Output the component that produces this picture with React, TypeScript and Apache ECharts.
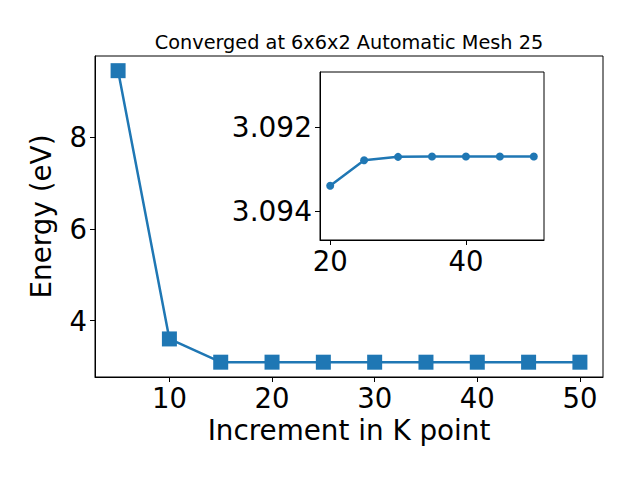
import React, { useEffect, useRef } from "react";
import * as echarts from "echarts";

const kPoints = [5, 10, 15, 20, 25, 30, 35, 40, 45, 50];
const energies = [9.45, 3.6, 3.093, 3.0934, 3.0928, 3.0927, 3.0927, 3.0927, 3.0927, 3.0927];
const insetK = [20, 25, 30, 35, 40, 45, 50];
const insetEnergies = [3.0934, 3.09279, 3.09271, 3.0927, 3.0927, 3.0927, 3.0927];
const mainXTicks = [10, 20, 30, 40, 50];
const mainYTicks = [4, 6, 8];
const insetXTicks = [20, 40];
const insetYTicks = [3.092, 3.094];
const titleText = "Converged at 6x6x2 Automatic Mesh 25";

const BLUE = "#1f77b4";
const FONT = "DejaVu Sans";
const BIG = 27.5;

export default function App() {
  const ref = useRef<HTMLDivElement>(null);
  useEffect(() => {
    if (!ref.current) return;
    const chart = echarts.init(ref.current, null, { renderer: "svg" });
    const axisCommon = {
      axisLine: { show: true, onZero: false, lineStyle: { color: "#000", width: 1 } },
      axisTick: { show: true, length: 5, lineStyle: { color: "#000", width: 1 } },
      splitLine: { show: false },
    };
    chart.setOption({
      animation: false,
      backgroundColor: "#fff",
      graphic: [
        {
          type: "text",
          x: 341,
          y: 34,
          style: {
            text: titleText,
            fontFamily: FONT,
            fontSize: 19.3,
            fill: "#000",
            align: "center",
            verticalAlign: "middle",
          },
        },
      ],
      grid: [
        { left: 87, right: 45, top: 48, bottom: 111, show: true, borderColor: "#000", borderWidth: 1 },
        { left: 312, top: 64, width: 224, height: 168, show: true, borderColor: "#000", borderWidth: 1, backgroundColor: "#fff", z: 10 },
      ],
      xAxis: [
        {
          type: "value",
          gridIndex: 0,
          min: 2.75,
          max: 52.25,
          ...axisCommon,
          axisTick: { ...axisCommon.axisTick, customValues: mainXTicks },
          axisLabel: { customValues: mainXTicks, fontFamily: FONT, fontSize: BIG, color: "#000", margin: 7 },
          name: "Increment in K point",
          nameLocation: "middle",
          nameGap: 38,
          nameTextStyle: { fontFamily: FONT, fontSize: 27.8, color: "#000", verticalAlign: "top" },
        },
        {
          type: "value",
          gridIndex: 1,
          min: 18.5,
          max: 51.5,
          z: 10,
          ...axisCommon,
          axisTick: { ...axisCommon.axisTick, customValues: insetXTicks },
          axisLabel: { customValues: insetXTicks, fontFamily: FONT, fontSize: BIG, color: "#000", margin: 7 },
        },
      ],
      yAxis: [
        {
          type: "value",
          gridIndex: 0,
          min: 2.77,
          max: 9.77,
          ...axisCommon,
          axisTick: { ...axisCommon.axisTick, customValues: mainYTicks },
          axisLabel: { customValues: mainYTicks, fontFamily: FONT, fontSize: BIG, color: "#000", margin: 8 },
          name: "Energy (eV)",
          nameLocation: "middle",
          nameGap: 40,
          nameTextStyle: { fontFamily: FONT, fontSize: 27.8, color: "#000" },
        },
        {
          type: "value",
          gridIndex: 1,
          inverse: true,
          min: 3.09069,
          max: 3.09469,
          z: 10,
          ...axisCommon,
          axisTick: { ...axisCommon.axisTick, customValues: insetYTicks },
          axisLabel: {
            customValues: insetYTicks,
            fontFamily: FONT,
            fontSize: 28,
            color: "#000",
            margin: 8,
            formatter: (v: number) => v.toFixed(3),
          },
        },
      ],
      series: [
        {
          type: "line",
          xAxisIndex: 0,
          yAxisIndex: 0,
          data: kPoints.map((k, i) => [k, energies[i]]),
          symbol: "rect",
          symbolSize: 15,
          lineStyle: { color: BLUE, width: 2.5 },
          itemStyle: { color: BLUE },
        },
        {
          type: "line",
          xAxisIndex: 1,
          yAxisIndex: 1,
          z: 20,
          data: insetK.map((k, i) => [k, insetEnergies[i]]),
          symbol: "circle",
          symbolSize: 8,
          lineStyle: { color: BLUE, width: 2.5 },
          itemStyle: { color: BLUE },
        },
      ],
    });
    return () => chart.dispose();
  }, []);
  return <div ref={ref} style={{ width: 640, height: 480 }} />;
}
